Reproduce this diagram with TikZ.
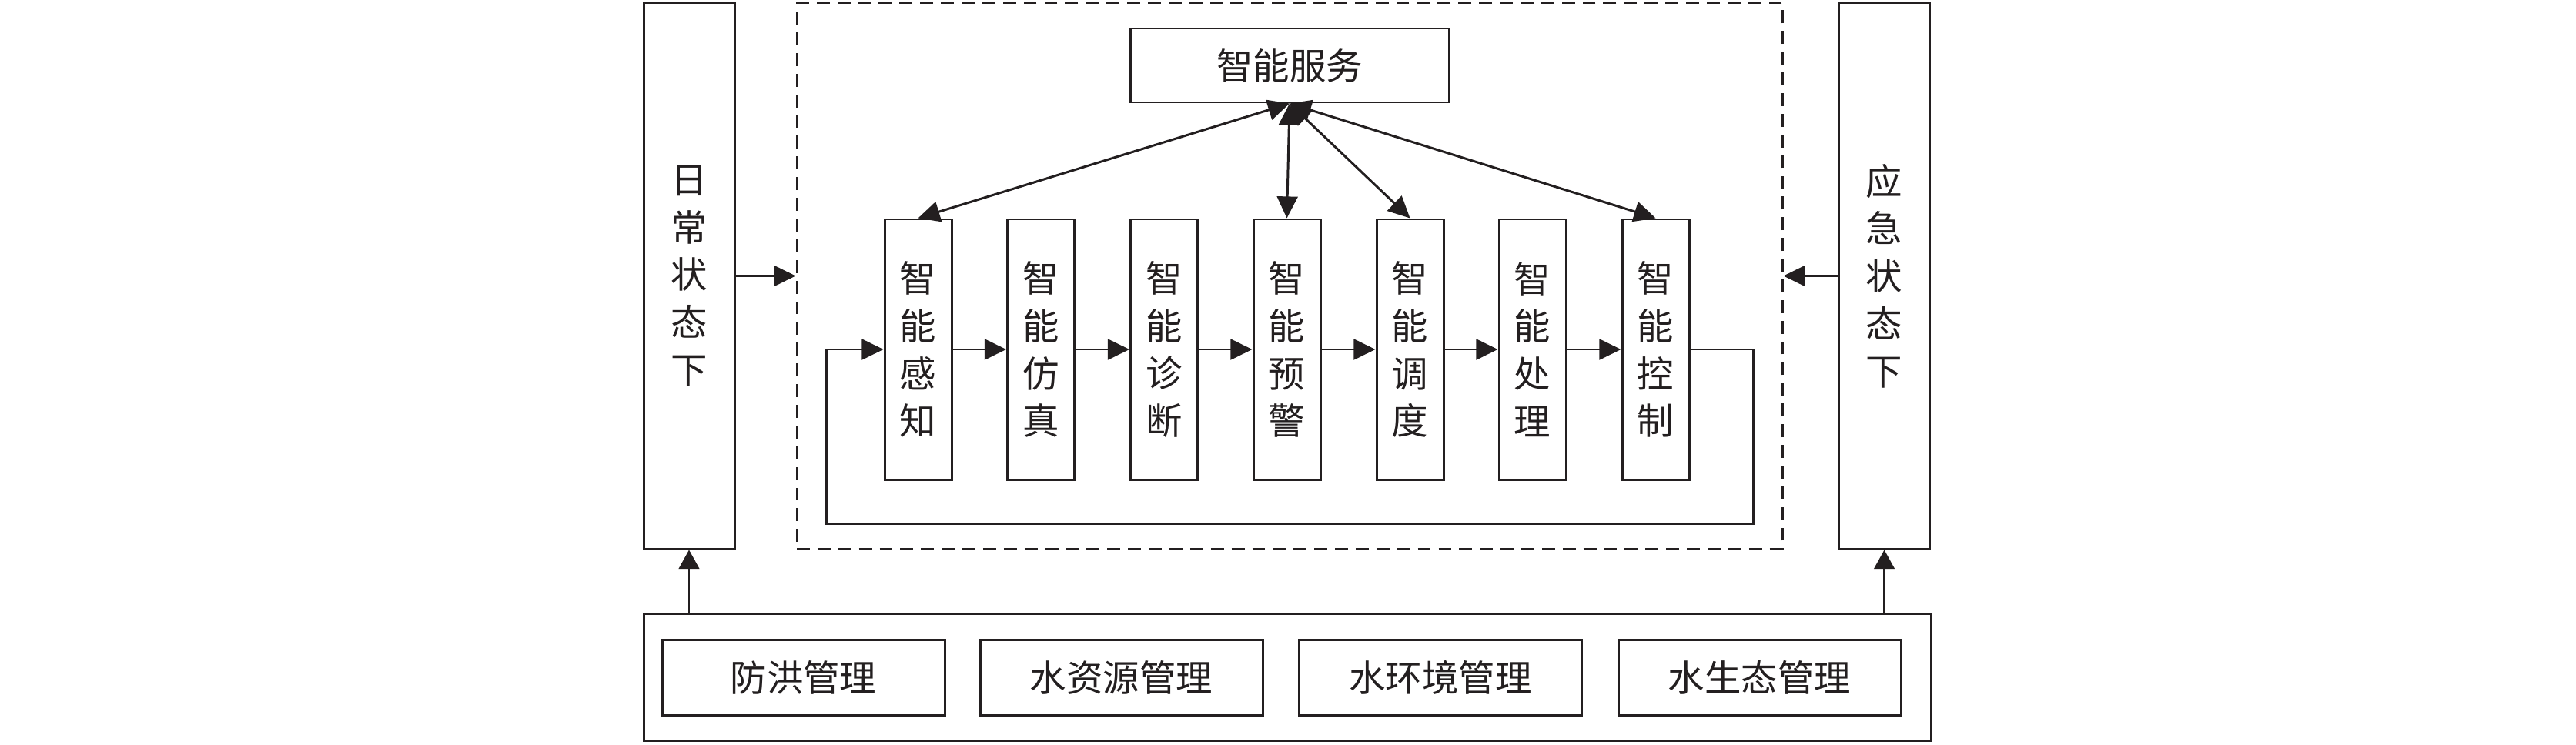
\documentclass[tikz,border=0pt]{standalone}
\usepackage{fontspec}
\setmainfont{Noto Sans CJK SC}
\usepackage{xcolor}
\usepackage{tikz}
\usetikzlibrary{arrows.meta, positioning, calc}
\definecolor{ink}{HTML}{231F20}

\begin{document}
\begin{tikzpicture}[
    font=\fontsize{13.5pt}{17.6pt}\selectfont,
    every node/.style={text=ink},
    box/.style={draw=ink, line width=0.85pt, rectangle, align=center, inner sep=0pt},
    tallbox/.style={box, minimum width=0.87cm, minimum height=3.38cm},
    sidebox/.style={box, minimum width=1.18cm, minimum height=7.09cm},
    mgmtbox/.style={box, minimum width=3.67cm, minimum height=0.98cm},
    corebox/.style={draw=ink, line width=0.85pt, dash pattern=on 4.8pt off 2.85pt, minimum width=12.8cm, minimum height=7.09cm},
    arrow/.style={-{Triangle[length=8pt, width=7.6pt]}, line width=0.85pt, draw=ink},
    dblarrow/.style={{Triangle[length=8pt, width=7.6pt]}-{Triangle[length=8pt, width=7.6pt]}, line width=0.85pt, draw=ink},
    thinarrow/.style={-{Triangle[length=7pt, width=7.6pt]}, line width=0.6pt, draw=ink}
]

% Bounding box
\useasboundingbox (0,0) rectangle (33.46,-9.67);

% Side states
\node[sidebox] (daily) at (8.95,-3.585) {日\\常\\状\\态\\下};
\node[sidebox] (emergency) at (24.475,-3.585) {应\\急\\状\\态\\下};

% Intelligent core
\node[corebox] (core) at (16.75,-3.585) {};

% Service
\node[box, minimum width=4.14cm, minimum height=0.96cm] (service) at (16.75,-0.85) {智能服务};

% Steps
\node[tallbox] (sense) at (11.925,-4.54) {智\\能\\感\\知};
\node[tallbox] (simu) at (13.52,-4.54) {智\\能\\仿\\真};
\node[tallbox] (diag) at (15.12,-4.54) {智\\能\\诊\\断};
\node[tallbox] (warn) at (16.715,-4.54) {智\\能\\预\\警};
\node[tallbox] (disp) at (18.315,-4.54) {智\\能\\调\\度};
\node[tallbox] (proc) at (19.905,-4.54) {智\\能\\处\\理};
\node[tallbox] (ctrl) at (21.505,-4.54) {智\\能\\控\\制};

% Management
\node[box, minimum width=16.72cm, minimum height=1.65cm] (mgmt) at (16.72,-8.795) {};
\node[mgmtbox] (flood) at (10.435,-8.80) {防洪管理};
\node[mgmtbox] (resource) at (14.565,-8.80) {水资源管理};
\node[mgmtbox] (environ) at (18.71,-8.80) {水环境管理};
\node[mgmtbox] (ecology) at (22.855,-8.80) {水生态管理};

% Loop corners
\coordinate (loopR) at (22.77,-6.80);
\coordinate (loopL) at (10.73,-6.80);

% Chain arrows
\draw[arrow] (sense) -- (simu);
\draw[arrow] (simu) -- (diag);
\draw[arrow] (diag) -- (warn);
\draw[arrow] (warn) -- (disp);
\draw[arrow] (disp) -- (proc);
\draw[arrow] (proc) -- (ctrl);

% Feedback loop
\draw[arrow] (ctrl.east) -| (loopR) -- (loopL) |- (sense.west);

% Service links
\draw[dblarrow] (service.south) -- (sense.north);
\draw[dblarrow] (service.south) -- (warn.north);
\draw[dblarrow] (service.south) -- (disp.north);
\draw[dblarrow] (service.south) -- (ctrl.north);

% State inputs
\draw[arrow] (daily) -- (core);
\draw[arrow] (emergency) -- (core);
\draw[thinarrow] (mgmt.north -| daily.south) -- (daily.south);
\draw[thinarrow] (mgmt.north -| emergency.south) -- (emergency.south);

\end{tikzpicture}
\end{document}
